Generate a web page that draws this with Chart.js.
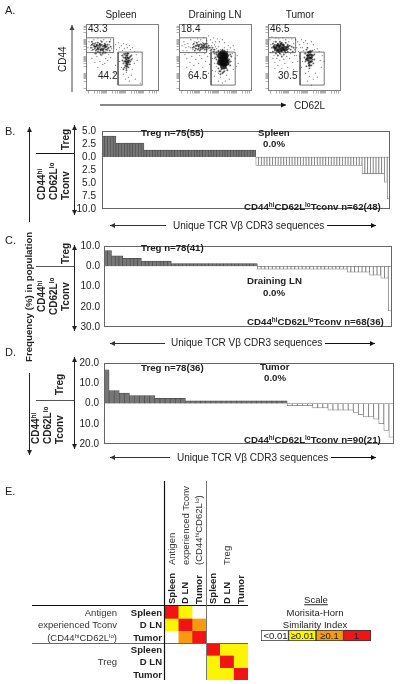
<!DOCTYPE html>
<html>
<head>
<meta charset="utf-8">
<script src="https://cdn.jsdelivr.net/npm/chart.js@4/dist/chart.umd.min.js"></script>
<style>
html, body { margin: 0; padding: 0; background: #fff; }
#page { position: relative; width: 400px; height: 684px; overflow: hidden; font-family: "Liberation Sans", Arial, sans-serif; color: #222; }
canvas { position: absolute; }
svg { position: absolute; left: 0; top: 0; }
.t { position: absolute; white-space: nowrap; line-height: 1; }
.t sup { font-size: 0.65em; line-height: 0; vertical-align: baseline; position: relative; top: -0.45em; }
</style>
</head>
<body>
<div id="page">
<canvas id="flow_spleen"></canvas>
<canvas id="flow_dln"></canvas>
<canvas id="flow_tumor"></canvas>
<canvas id="bars_b"></canvas>
<canvas id="bars_c"></canvas>
<canvas id="bars_d"></canvas>
<canvas id="heat"></canvas>
<canvas id="scale"></canvas>
<svg id="marks" width="400" height="684"></svg>
</div>
<script>
// clonotype frequencies, panels B, C, D
var bTreg = [4,4,4,4,4,2.67,2.67,2.67,2.67,2.67,2.67,2.67,2.67,2.67,2.67,
  1.33,1.33,1.33,1.33,1.33,1.33,1.33,1.33,1.33,1.33,1.33,1.33,1.33,1.33,1.33,1.33,1.33,1.33,1.33,1.33,
  1.33,1.33,1.33,1.33,1.33,1.33,1.33,1.33,1.33,1.33,1.33,1.33,1.33,1.33,1.33,1.33,1.33,1.33,1.33,1.33];
var bTconv = [1.61,1.61,1.61,1.61,1.61,1.61,1.61,1.61,1.61,1.61,1.61,1.61,1.61,1.61,1.61,1.61,1.61,1.61,1.61,
  1.61,1.61,1.61,1.61,1.61,1.61,1.61,1.61,1.61,1.61,1.61,1.61,1.61,1.61,1.61,1.61,1.61,1.61,1.61,
  3.23,3.23,3.23,3.23,3.23,3.23,3.23,3.23,4.84,8.06];
var cTreg = [7.69,7.69,5.13,5.13,5.13,3.85,3.85,3.85,3.85,3.85,2.56,2.56,2.56,2.56,2.56,2.56,2.56,2.56,
  1.28,1.28,1.28,1.28,1.28,1.28,1.28,1.28,1.28,1.28,1.28,1.28,1.28,1.28,1.28,1.28,1.28,1.28,1.28,1.28,1.28,1.28,1.28];
var cTconv = [1.47,1.47,1.47,1.47,1.47,1.47,1.47,1.47,1.47,1.47,1.47,1.47,1.47,1.47,1.47,1.47,1.47,1.47,1.47,1.47,1.47,1.47,1.47,1.47,
  2.94,2.94,2.94,2.94,2.94,2.94,4.41,4.41,4.41,5.88,5.88,22.06];
var dTreg = [16.67,6.41,6.41,5.13,5.13,3.85,3.85,3.85,3.85,3.85,2.56,2.56,2.56,2.56,2.56,2.56,
  1.28,1.28,1.28,1.28,1.28,1.28,1.28,1.28,1.28,1.28,1.28,1.28,1.28,1.28,1.28,1.28,1.28,1.28,1.28,1.28];
var dTconv = [1.11,1.11,1.11,1.11,1.11,2.22,2.22,2.22,3.33,3.33,3.33,3.33,3.33,4.44,5.56,6.67,6.67,7.78,10,13.33,16.67];

// similarity rows, panel E
var simAgSpleen = [1,0.05,0,0,0,0];
var simAgDln = [0.05,1,0.5,0,0,0];
var simAgTumor = [0,0.5,1,0,0,0];
var simTregSpleen = [0,0,0,1,0.05,0.05];
var simTregDln = [0,0,0,0.05,1,0.05];
var simTregTumor = [0,0,0,0.05,0.05,1];
var simRows = [simAgSpleen, simAgDln, simAgTumor, simTregSpleen, simTregDln, simTregTumor];
var simColumns = ["Spleen","D LN","Tumor","Spleen","D LN","Tumor"];
var scaleLevels = [0, 0.05, 0.5, 1];
var scaleLabels = ["<0.01", "\u22650.01", "\u22650.1", "1"];

// flow events, [CD62L, CD44] in plot channels
var spleenSparse = [[3,50],[5,46],[6,41],[8,52],[9,38],[10,49],[11,35],[12,53],[13,39],[14,30],[15,51],[16,36],[17,27],[18,52],[19,38],[20,33],[21,50],[22,41],[23,37],[24,47],[25,52],[26,43],[27,39],[12,24],[16,20],[19,28],[22,31],[9,29],[25,34],[28,45],[30,47],[31,42],[33,49],[34,44],[36,46],[37,41],[38,48],[39,43],[41,47],[42,44],[44,46],[45,42],[47,44],[49,40],[51,37],[36,36],[34,30],[36,24],[38,38],[47,33],[49,28],[47,22],[46,16],[43,14],[40,12],[44,10],[38,17],[52,31],[30,26],[29,18],[18,14],[50,12],[55,8],[6,33],[2,44],[14,45],[7,44],[33,38],[41,19],[45,27]];
var spleenMid = [[8,46],[9,43],[10,45],[11,42],[11,47],[12,44],[13,46],[13,42],[14,48],[14,44],[15,41],[15,46],[16,43],[16,47],[17,45],[17,41],[18,46],[18,43],[19,44],[20,47],[20,42],[21,45],[12,40],[17,38],[22,43],[7,48],[38,34],[39,30],[39,37],[40,26],[40,33],[41,23],[41,29],[42,36],[42,25],[43,31],[43,38],[44,27],[44,34],[45,30],[37,31],[46,36],[5,44],[6,47],[7,42],[9,48],[10,41],[12,49],[14,39],[16,50],[18,40],[19,48],[21,42],[22,47],[23,44],[24,41],[25,45],[10,38],[15,37],[20,39],[6,50],[24,50],[38,28],[39,24],[44,31],[45,35],[40,38],[41,21],[43,24],[37,36],[46,32],[38,22]];
var spleenCore = [[9,45],[12,43],[14,47],[17,42],[20,45],[19,46],[11,46],[15,42],[40,34],[41,32],[42,30],[41,28],[42,34],[43,33],[40,30],[42,27],[41,36],[43,29],[42,38],[41,25]];
var dlnSparse = [[3,46],[4,41],[5,50],[6,37],[7,44],[8,33],[9,48],[10,39],[11,29],[12,52],[13,35],[14,42],[15,26],[16,50],[17,32],[18,38],[19,53],[20,28],[21,36],[22,52],[23,33],[24,24],[25,54],[26,38],[27,30],[28,51],[29,35],[30,56],[31,27],[32,52],[33,38],[34,21],[35,54],[36,33],[37,50],[38,25],[39,53],[40,18],[41,50],[42,14],[44,52],[46,49],[48,16],[50,46],[52,44],[53,30],[54,38],[55,22],[56,42],[57,33],[58,25],[59,36],[51,12],[47,10],[44,8],[40,10],[36,15],[30,18],[24,15],[18,20],[12,22],[8,24],[60,28],[33,46],[35,42],[37,45],[30,43],[29,48],[32,44],[34,49],[36,47],[38,43],[40,45],[42,42],[31,38],[28,40],[26,44],[24,49],[22,48],[20,50],[18,43],[16,44],[14,47],[12,44],[10,45],[8,41],[6,47],[55,46],[49,42],[46,44],[34,33],[36,28],[37,20]];
var dlnMid = [[14,44],[15,48],[16,41],[17,46],[18,49],[19,42],[20,45],[21,41],[22,44],[23,47],[24,43],[25,46],[26,42],[27,48],[28,45],[30,46],[32,41],[34,44],[36,42],[38,39],[39,35],[40,41],[39,28],[40,23],[41,37],[41,20],[42,17],[43,40],[43,22],[44,42],[45,19],[46,41],[47,24],[48,39],[49,21],[50,36],[50,27],[51,32],[52,37],[38,32],[52,26],[20,46],[24,46],[22,44],[26,45],[18,46],[23,45],[25,48],[37,34],[38,37],[40,30],[52,30],[53,35],[49,40],[42,20],[44,18],[46,20],[48,23],[36,38],[35,40],[40,40],[44,41],[47,40],[15,45],[17,43],[19,47],[21,47],[22,42],[24,44],[27,44],[29,44],[31,44],[33,42],[20,43],[25,44],[26,47],[28,42]];
var dlnCore = [[42,36],[44,38],[46,36],[43,32],[45,33],[47,32],[44,29],[46,28],[45,25],[47,36],[42,29],[48,29]];
var tumorSparse = [[2,52],[3,47],[3,39],[4,55],[5,33],[6,50],[6,36],[7,29],[8,54],[9,33],[10,26],[11,53],[12,31],[13,37],[14,23],[15,54],[16,32],[17,28],[18,52],[19,35],[20,24],[21,50],[22,33],[23,38],[24,53],[25,29],[26,48],[27,36],[28,52],[29,44],[30,50],[31,40],[32,47],[33,33],[34,52],[35,44],[36,49],[37,38],[38,51],[39,25],[40,48],[41,20],[44,50],[46,47],[48,18],[50,43],[52,40],[53,31],[54,24],[50,14],[46,12],[42,15],[38,18],[34,24],[30,20],[26,22],[32,35],[35,30],[47,42],[18,18],[12,20],[7,23],[29,36],[30,30],[57,30],[55,36],[40,10],[44,6],[33,44],[27,42],[36,41]];
var tumorMid = [[4,44],[5,40],[5,48],[6,44],[7,41],[7,47],[8,38],[8,50],[9,44],[10,36],[10,48],[11,41],[12,50],[12,38],[13,46],[14,35],[14,49],[15,41],[16,47],[16,37],[17,43],[18,49],[18,39],[19,44],[20,47],[20,40],[21,43],[22,46],[23,42],[24,45],[25,40],[26,44],[38,38],[38,30],[39,42],[39,25],[40,34],[40,44],[41,28],[42,40],[42,23],[43,30],[44,36],[44,26],[45,41],[45,32],[46,28],[47,37],[37,34],[47,32]];
var tumorCore = [[8,44],[10,42],[11,45],[12,43],[13,41],[14,44],[15,43],[16,45],[17,41],[9,46],[41,36],[42,34],[43,37],[41,31],[43,33],[42,29],[44,34],[40,33],[6,45],[7,43],[10,47],[12,46],[14,41],[15,47],[16,42],[18,44],[19,42],[20,45],[11,40],[13,48],[9,41],[44,30],[41,39],[40,36],[42,26],[45,36],[39,32],[43,40]];
var gateHigh = [[0.3,39],[28,39],[28,54],[0.3,54],[0.3,39]];
var gateLow = [[32.5,6],[57,6],[57,39.5],[32.5,39.5],[32.5,6]];
var flowTicksX = [3,9,12,14,16,17,18,19,20,21,27,30,32,34,35,36,37,38,39,40,46,49,51,53,54,55,56,57,58,64,67,69,71];
var flowTicksY = [3,10,13,14,15,16,17,18,25,28,30,31,32,33,34,35,42,45,47,48,49,50,51,52,59,62,64,65];

function pts(list) {
  return list.map(function (p) { return { x: p[0], y: p[1] }; });
}

function place(id, left, top, width, height) {
  var c = document.getElementById(id);
  c.width = width;
  c.height = height;
  c.style.left = left + "px";
  c.style.top = top + "px";
  return c.getContext('2d');
}

var frame = {
  id: 'frame',
  afterDatasetsDraw: function (chart) {
    var a = chart.chartArea, g = chart.ctx;
    g.save();
    g.strokeStyle = chart.options.plugins.frame.color;
    g.lineWidth = 1;
    g.strokeRect(a.left + 0.5, a.top + 0.5, a.right - a.left - 1, a.bottom - a.top - 1);
    g.restore();
  }
};

function flowScale(ticks, max, fit) {
  return {
    type: 'linear', min: 0, max: max,
    afterBuildTicks: function (s) { s.ticks = ticks.map(function (v) { return { value: v }; }); },
    afterFit: fit,
    grid: { drawOnChartArea: false, drawTicks: true, tickLength: 2.5, color: '#8a8a8a', lineWidth: 0.7 },
    border: { display: false },
    ticks: { display: false }
  };
}

function flowDots(list, radius, color) {
  return { type: 'scatter', data: pts(list), pointRadius: radius, pointBorderWidth: 0, backgroundColor: color, showLine: false };
}

function flowGate(list) {
  return { type: 'scatter', data: pts(list), showLine: true, pointRadius: 0, borderColor: '#555', borderWidth: 0.8 };
}

function flowChart(id, left, sparse, mid, core, coreSize) {
  var ctx = place(id, left - 8, 20, 74 + 11, 71 + 7);
  return new Chart(ctx, {
    type: 'scatter',
    data: { datasets: [
      flowDots(sparse, 0.65, 'rgba(80,80,80,0.7)'),
      flowDots(mid, 0.95, 'rgba(40,40,40,0.75)'),
      flowDots(core, coreSize, 'rgba(10,10,10,0.85)'),
      flowGate(gateHigh), flowGate(gateLow)
    ] },
    options: {
      responsive: false, animation: false,
      layout: { padding: { top: 3, right: 3 } },
      plugins: { legend: { display: false }, tooltip: { enabled: false }, frame: { color: '#808080' } },
      scales: {
        x: flowScale(flowTicksX, 74, function (s) { s.height = 7; }),
        y: flowScale(flowTicksY, 68, function (s) { s.width = 8; })
      }
    },
    plugins: [frame]
  });
}

function barChart(id, left, top, right, bottom, treg, tconv, minY, maxY, step, pad) {
  var names = treg.concat(tconv).map(function (v, i) { return i + 1; });
  var up = treg.concat(tconv.map(function () { return null; }));
  var down = treg.map(function () { return null; }).concat(tconv.map(function (v) { return -v; }));
  var ctx = place(id, 76, top - 6, right - 76 + 3, bottom - top + 12);
  return new Chart(ctx, {
    type: 'bar',
    data: { labels: names, datasets: [
      { data: up, backgroundColor: '#767676', borderColor: '#4c4c4c', borderWidth: 0.7, barPercentage: 1, categoryPercentage: 1, grouped: false },
      { data: down, backgroundColor: '#ffffff', borderColor: '#7a7a7a', borderWidth: 0.8, borderSkipped: false, barPercentage: 1, categoryPercentage: 1, grouped: false }
    ] },
    options: {
      responsive: false, animation: false,
      layout: { padding: { top: 6, right: 3, bottom: 6 } },
      plugins: { legend: { display: false }, tooltip: { enabled: false }, frame: { color: '#666' } },
      scales: {
        x: { display: false },
        y: {
          min: minY, max: maxY,
          afterFit: function (s) { s.width = left - 76; },
          grid: { display: false, drawTicks: false },
          border: { display: false },
          ticks: {
            stepSize: step, padding: pad, color: '#222', autoSkip: false,
            font: { family: 'Liberation Sans', size: 10 },
            callback: function (v) { return Math.abs(v).toFixed(1); }
          }
        }
      }
    },
    plugins: [frame]
  });
}

function simColor(v) {
  if (v >= 1) return '#f01414';
  if (v >= 0.1) return '#f79a0d';
  if (v >= 0.01) return '#fbf505';
  return '#ffffff';
}

flowChart("flow_spleen", 86, spleenSparse, spleenMid, spleenCore, 1.1);
flowChart("flow_dln", 179, dlnSparse, dlnMid, dlnCore, 3.2);
flowChart("flow_tumor", 268, tumorSparse, tumorMid, tumorCore, 1.3);

barChart("bars_b", 102, 125, 390, 215, bTreg, bTconv, -10, 5, 2.5, 6);
barChart("bars_c", 104, 242, 392, 331, cTreg, cTconv, -30, 10, 10, 4);
barChart("bars_d", 104, 358, 394, 449, dTreg, dTconv, -20, 20, 10, 5);

var heatCtx = place("heat", 165, 606, 83, 74);
new Chart(heatCtx, {
  type: 'bar',
  data: {
    labels: simColumns,
    datasets: simRows.map(function (row) {
      return {
        data: row.map(function () { return 1; }),
        backgroundColor: row.map(simColor),
        borderWidth: 0, barPercentage: 1, categoryPercentage: 1
      };
    })
  },
  options: {
    responsive: false, animation: false,
    plugins: { legend: { display: false }, tooltip: { enabled: false } },
    scales: {
      x: { display: false, stacked: true },
      y: { display: false, stacked: true, reverse: true, min: 0, max: simRows.length }
    }
  }
});

var scaleCtx = place("scale", 261, 630, 110, 11);
new Chart(scaleCtx, {
  type: 'bar',
  data: {
    labels: ["Scale"],
    datasets: scaleLevels.map(function (v) {
      return { data: [1], backgroundColor: simColor(v), borderColor: '#333', borderWidth: 1, borderSkipped: false, barPercentage: 1, categoryPercentage: 1 };
    })
  },
  options: {
    indexAxis: 'y',
    responsive: false, animation: false,
    plugins: { legend: { display: false }, tooltip: { enabled: false } },
    scales: {
      x: { display: false, stacked: true, min: 0, max: scaleLevels.length },
      y: { display: false, stacked: true }
    }
  }
});

// annotation lines and arrows
var svg = document.getElementById("marks");
function line(x1, y1, x2, y2, color, w) {
  var l = document.createElementNS("http://www.w3.org/2000/svg", "line");
  l.setAttribute("x1", x1); l.setAttribute("y1", y1); l.setAttribute("x2", x2); l.setAttribute("y2", y2);
  l.setAttribute("stroke", color); l.setAttribute("stroke-width", w || 1);
  svg.appendChild(l);
}
function head(x, y, dx, dy, color) {
  var p = document.createElementNS("http://www.w3.org/2000/svg", "polygon");
  var s = 5, h = 2.5;
  p.setAttribute("points", [x, y, x - dx * s - dy * h, y - dy * s - dx * h, x - dx * s + dy * h, y - dy * s + dx * h].join(","));
  p.setAttribute("fill", color);
  svg.appendChild(p);
}
function arrow(x1, y1, x2, y2, color, both) {
  var len = Math.sqrt((x2 - x1) * (x2 - x1) + (y2 - y1) * (y2 - y1));
  var dx = (x2 - x1) / len, dy = (y2 - y1) / len;
  line(x1, y1, x2, y2, color, 1);
  head(x2, y2, dx, dy, color);
  if (both) head(x1, y1, -dx, -dy, color);
}

arrow(72, 92, 72, 25, '#444');
arrow(100, 105, 286, 105, '#111');
arrow(29.5, 222, 29.5, 127, '#222');
arrow(29.5, 373, 29.5, 455, '#222');
arrow(74.5, 125, 74.5, 215, '#222', true);
arrow(74.5, 245, 74.5, 331, '#222', true);
arrow(74.5, 357, 74.5, 449, '#222', true);
line(36, 153.5, 74, 153.5, '#111');
line(36, 266.5, 74, 266.5, '#555');
line(36, 400.5, 74, 400.5, '#555');
[[166, 110, 327, 376, 225.5], [165, 110, 325, 375, 343.5], [170, 110, 331, 376, 457.5]].forEach(function (r) {
  arrow(r[0], r[4], r[1], r[4], '#333');
  arrow(r[2], r[4], r[3], r[4], '#111');
});
line(32, 605.5, 248, 605.5, '#111', 1.2);
line(32, 643.5, 248, 643.5, '#666', 1);
line(164.5, 481, 164.5, 680, '#111', 1.2);
line(206.5, 481, 206.5, 680, '#777', 1);

// text
var page = document.getElementById("page");
function text(html, x, y, o) {
  o = o || {};
  var d = document.createElement("div");
  d.className = "t";
  d.innerHTML = html;
  d.style.left = x + "px";
  d.style.top = y + "px";
  d.style.fontSize = (o.size || 10) + "px";
  if (o.bold) d.style.fontWeight = "bold";
  if (o.color) d.style.color = o.color;
  if (o.under) d.style.textDecoration = "underline";
  if (o.rot) {
    d.style.transformOrigin = "0 50%";
    d.style.transform = "translateY(-50%) rotate(-90deg)";
  } else if (o.center) {
    d.style.transform = "translate(-50%,-50%)";
  } else if (o.right) {
    d.style.transform = "translate(-100%,-50%)";
  } else {
    d.style.transform = "translateY(-50%)";
  }
  page.appendChild(d);
}

[["A.", 10], ["B.", 131], ["C.", 240], ["D.", 352], ["E.", 491]].forEach(function (p) {
  text(p[0], 5, p[1], { size: 11 });
});

text("Spleen", 121, 15, { center: 1 });
text("Draining LN", 215, 15, { center: 1 });
text("Tumor", 300, 15, { center: 1 });
[["43.3", 88, 29], ["18.4", 181, 29], ["46.5", 270, 29], ["44.2", 98, 76], ["64.5", 188, 76], ["30.5", 278, 76]].forEach(function (p) {
  text(p[0], p[1], p[2]);
});
text("CD44", 63, 72, { rot: 1 });
text("CD62L", 294, 106);

var tconvLabel = "CD44<sup>hi</sup>CD62L<sup>lo</sup>Tconv";
var seqLabel = "Unique TCR V\u03b2 CDR3 sequences";
text("Frequency (%) in population", 29, 362, { rot: 1, bold: 1, size: 9.7 });

text("Treg", 66, 150, { rot: 1, bold: 1 });
text("CD44<sup>hi</sup>", 42, 200, { rot: 1, bold: 1 });
text("CD62L<sup>lo</sup>", 53.5, 200, { rot: 1, bold: 1 });
text("Tconv", 65.5, 200, { rot: 1, bold: 1 });
text("Treg n=75(55)", 141, 133, { bold: 1, size: 9.7 });
text("Spleen", 258, 133, { bold: 1, size: 9.7 });
text("0.0%", 263, 144, { bold: 1, size: 9.7 });
text(tconvLabel + " n=62(48)", 244, 207, { bold: 1, size: 9.7 });
text(seqLabel, 173, 226);

text("Treg", 66, 264, { rot: 1, bold: 1 });
text("CD44<sup>hi</sup>", 42, 312, { rot: 1, bold: 1 });
text("CD62L<sup>lo</sup>", 53.5, 315, { rot: 1, bold: 1 });
text("Tconv", 65.5, 311, { rot: 1, bold: 1 });
text("Treg n=78(41)", 141, 248, { bold: 1, size: 9.7 });
text("Draining LN", 247, 281, { bold: 1, size: 9.7 });
text("0.0%", 263, 293, { bold: 1, size: 9.7 });
text(tconvLabel + " n=68(36)", 247, 322, { bold: 1, size: 9.7 });
text(seqLabel, 171, 343);

text("Treg", 60, 395, { rot: 1, bold: 1 });
text("CD44<sup>hi</sup>", 36, 444, { rot: 1, bold: 1 });
text("CD62L<sup>lo</sup>", 48, 444, { rot: 1, bold: 1 });
text("Tconv", 60, 444, { rot: 1, bold: 1 });
text("Treg n=78(36)", 141, 368, { bold: 1, size: 9.7 });
text("Tumor", 260, 367, { bold: 1, size: 9.7 });
text("0.0%", 264, 378, { bold: 1, size: 9.7 });
text(tconvLabel + " n=90(21)", 244, 440, { bold: 1, size: 9.7 });
text(seqLabel, 177, 457.5);

[["Antigen", 612.7], ["experienced Tconv", 625], ["(CD44<sup>hi</sup>CD62L<sup>lo</sup>)", 637.5], ["Treg", 661.7]].forEach(function (p) {
  text(p[0], 117, p[1], { right: 1, size: 9.5, color: '#333' });
});
[612.7, 625, 637.5, 650, 662, 674.5].forEach(function (y, i) {
  text(simColumns[i], 162, y, { right: 1, bold: 1, size: 9.5 });
});
[171.5, 185, 199, 213, 227, 241].forEach(function (x, i) {
  text(simColumns[i], x, 604, { rot: 1, bold: 1, size: 9.5 });
});
[["Antigen", 172], ["experienced Tconv", 186], ["(CD44<sup>hi</sup>CD62L<sup>lo</sup>)", 199], ["Treg", 227]].forEach(function (p) {
  text(p[0], p[1], 565, { rot: 1, size: 9.5, color: '#333' });
});

text("Scale", 316, 600, { center: 1, under: 1, size: 9.5 });
text("Morisita-Horn", 315, 612.5, { center: 1, size: 9.5 });
text("Similarity Index", 315, 625, { center: 1, size: 9.5 });
[275.5, 302.5, 329.5, 356.5].forEach(function (x, i) {
  text(scaleLabels[i].replace("<", "&lt;"), x, 635.5, { center: 1, size: 9.5 });
});
</script>
</body>
</html>
